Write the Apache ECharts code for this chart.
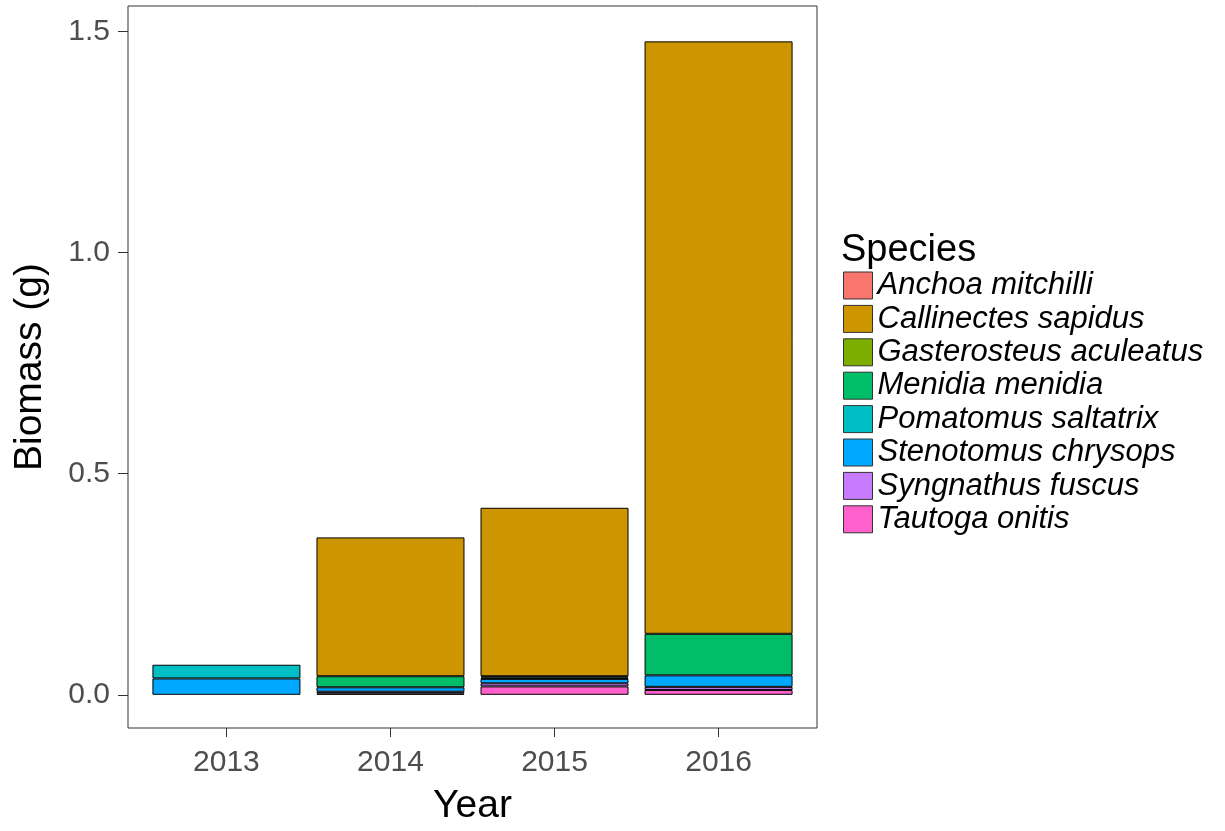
<!DOCTYPE html>
<html>
<head>
<meta charset="utf-8">
<script src="https://cdn.jsdelivr.net/npm/echarts@6/dist/echarts.min.js"></script>
<style>
  html, body { margin: 0; padding: 0; background: #fff; }
  #chart { width: 1225px; height: 831px; }
</style>
</head>
<body>
<div id="chart"></div>
<script>
// years on the x axis (placed at 1..4 like ggplot's discrete scale)
const years = ['2013', '2014', '2015', '2016'];
const yTicks = [0, 0.5, 1.0, 1.5];

// species in legend order (first one sits on top of the stack)
const species = ['Anchoa mitchilli', 'Callinectes sapidus', 'Gasterosteus aculeatus', 'Menidia menidia',
  'Pomatomus saltatrix', 'Stenotomus chrysops', 'Syngnathus fuscus', 'Tautoga onitis'];
const colors = ['#F8766D', '#CD9600', '#7CAE00', '#00BE67', '#00BFC4', '#00A9FF', '#C77CFF', '#FF61CC'];

// biomass (g) per year, null = not caught
const anchoa      = [null, null, null, null];
const callinectes = [null, 0.314, 0.381, 1.340];
const gasterosteus = [null, null, null, null];
const menidia     = [null, 0.025, 0.003, 0.094];
const pomatomus   = [0.031, null, 0.003, null];
const stenotomus  = [0.037, 0.010, 0.010, 0.026];
const syngnathus  = [null, 0.004, 0.007, 0.007];
const tautoga     = [null, 0.003, 0.019, 0.011];

const values = [anchoa, callinectes, gasterosteus, menidia, pomatomus, stenotomus, syngnathus, tautoga];

let myChart = echarts.init(document.getElementById('chart'));
const font = '"Liberation Sans", Arial, sans-serif';

// stack from the bottom up: last species first
// value goes first in each pair so the stack runs along y
let series = [];
for (let i = species.length - 1; i >= 0; i--) {
  series.push({
    name: species[i],
    type: 'bar',
    stack: 'all',
    barWidth: 148,
    encode: { x: 1, y: 0 },
    itemStyle: { color: colors[i], borderColor: '#000', borderWidth: 1 },
    emphasis: { disabled: true },
    data: values[i].map((v, j) => [v, j + 1])
  });
}

let option = {
  animation: false,
  textStyle: { fontFamily: font },
  grid: {
    left: 128, right: 408, top: 6, bottom: 101,
    show: true, borderColor: '#333', borderWidth: 1, backgroundColor: '#fff'
  },
  title: {
    text: 'Species', left: 836, top: 227,
    textStyle: { fontFamily: font, fontSize: 38, fontWeight: 'normal', color: '#000' }
  },
  legend: {
    data: species,
    orient: 'vertical',
    left: 843, top: 270,
    padding: 0,
    icon: 'rect',
    itemWidth: 29, itemHeight: 27, itemGap: 2.4,
    selectedMode: false,
    itemStyle: { borderColor: '#333', borderWidth: 1 },
    textStyle: { fontFamily: font, fontSize: 31, fontStyle: 'italic', color: '#000', lineHeight: 27 }
  },
  xAxis: {
    type: 'value',
    min: 0.4, max: 4.6,
    name: 'Year', nameLocation: 'middle', nameGap: 59,
    nameTextStyle: { fontFamily: font, fontSize: 39, color: '#000' },
    axisLine: { show: false, onZero: false },
    splitLine: { show: false },
    axisTick: { show: true, length: 9, lineStyle: { color: '#333' }, customValues: [1, 2, 3, 4] },
    axisLabel: {
      fontFamily: font, fontSize: 30, color: '#4d4d4d', margin: 20,
      customValues: [1, 2, 3, 4],
      formatter: v => years[Math.round(v) - 1]
    }
  },
  yAxis: {
    type: 'value',
    min: -0.0751, max: 1.558,
    name: 'Biomass (g)', nameLocation: 'middle', nameGap: 78,
    nameTextStyle: { fontFamily: font, fontSize: 39, color: '#000' },
    axisLine: { show: false, onZero: false },
    splitLine: { show: false },
    axisTick: { show: true, length: 10, lineStyle: { color: '#333' }, customValues: yTicks },
    axisLabel: {
      fontFamily: font, fontSize: 30, color: '#4d4d4d', margin: 18,
      customValues: yTicks,
      formatter: v => v.toFixed(1)
    }
  },
  series: series
};

myChart.setOption(option);
</script>
</body>
</html>
